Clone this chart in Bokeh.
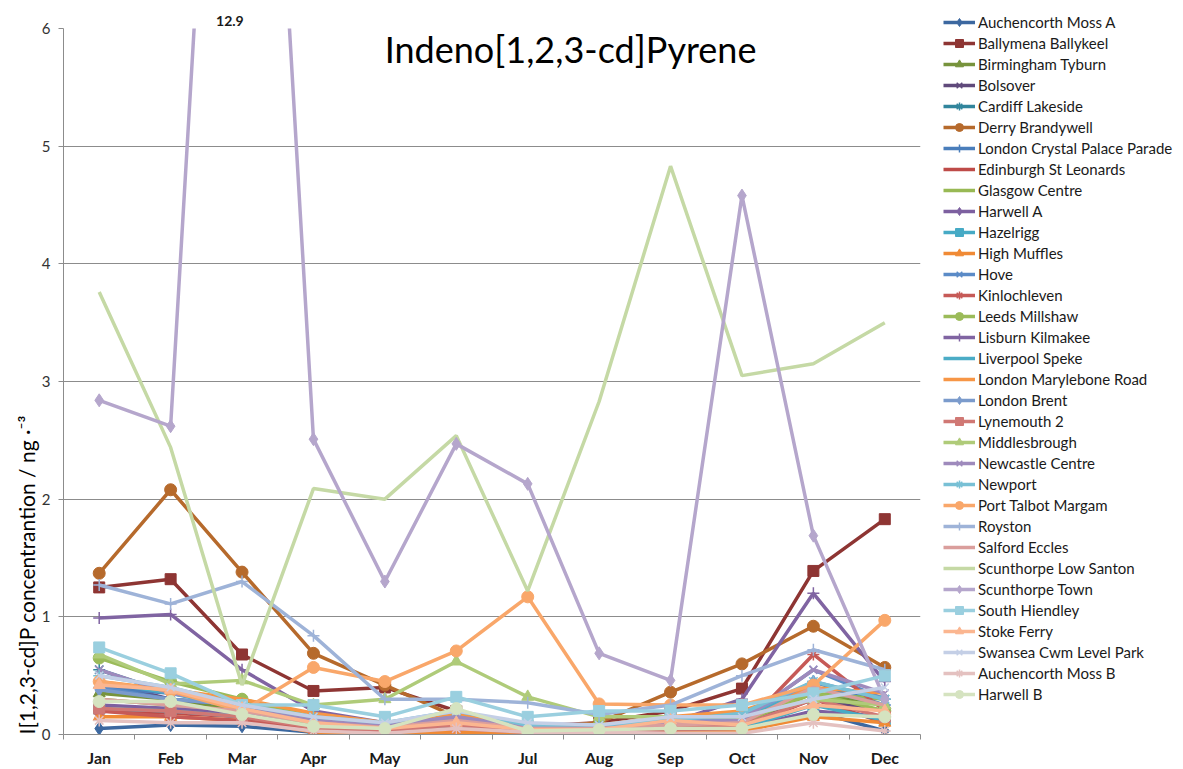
import math
from bokeh.plotting import figure
from bokeh.models import Legend, LegendItem, Label, FixedTicker, Range1d, Title
from bokeh.embed import file_html
from bokeh.resources import INLINE

months = ["Jan", "Feb", "Mar", "Apr", "May", "Jun", "Jul", "Aug", "Sep", "Oct", "Nov", "Dec"]
y_ticks = [0, 1, 2, 3, 4, 5, 6]

auchencorth_moss_a = [0.05, 0.08, 0.07, 0.02, 0.02, 0.02, 0.02, 0.02, 0.01, 0.02, 0.20, 0.03]
ballymena_ballykeel = [1.25, 1.32, 0.68, 0.37, 0.40, 0.20, 0.07, 0.10, 0.20, 0.39, 1.39, 1.83]
birmingham_tyburn = [0.35, 0.30, 0.20, 0.12, 0.08, 0.12, 0.05, 0.06, 0.10, 0.12, 0.35, 0.25]
bolsover = [0.45, 0.30, 0.25, 0.10, 0.06, 0.10, 0.04, 0.05, 0.08, 0.10, 0.30, 0.20]
cardiff_lakeside = [0.55, 0.35, 0.25, 0.15, 0.10, 0.15, 0.08, 0.07, 0.12, 0.15, 0.40, 0.30]
derry_brandywell = [1.37, 2.08, 1.38, 0.69, 0.42, 0.15, 0.05, 0.10, 0.36, 0.60, 0.92, 0.57]
london_crystal_palace = [0.40, 0.35, 0.30, 0.10, 0.07, 0.12, 0.06, 0.05, 0.10, 0.12, 0.45, 0.25]
edinburgh_st_leonards = [0.20, 0.18, 0.15, 0.05, 0.03, 0.07, 0.03, 0.03, 0.05, 0.06, 0.30, 0.10]
glasgow_centre = [0.30, 0.25, 0.20, 0.08, 0.05, 0.10, 0.04, 0.04, 0.08, 0.10, 0.35, 0.30]
harwell_a = [0.25, 0.22, 0.18, 0.06, 0.04, 0.08, 0.03, 0.03, 0.06, 0.05, 0.20, 0.15]
hazelrigg = [0.22, 0.20, 0.15, 0.05, 0.03, 0.06, 0.02, 0.03, 0.05, 0.05, 0.25, 0.12]
high_muffles = [0.15, 0.15, 0.12, 0.02, 0.02, 0.02, 0.02, 0.02, 0.03, 0.03, 0.15, 0.10]
hove = [0.40, 0.30, 0.25, 0.10, 0.07, 0.12, 0.05, 0.05, 0.10, 0.12, 0.55, 0.30]
kinlochleven = [0.20, 0.15, 0.12, 0.05, 0.02, 0.05, 0.02, 0.02, 0.04, 0.05, 0.68, 0.20]
leeds_millshaw = [0.65, 0.45, 0.30, 0.15, 0.10, 0.15, 0.08, 0.08, 0.12, 0.15, 0.35, 0.20]
lisburn_kilmakee = [0.99, 1.02, 0.55, 0.20, 0.10, 0.10, 0.05, 0.05, 0.10, 0.30, 1.20, 0.45]
liverpool_speke = [0.45, 0.35, 0.22, 0.12, 0.08, 0.15, 0.06, 0.06, 0.10, 0.15, 0.40, 0.25]
london_marylebone_road = [0.45, 0.38, 0.30, 0.18, 0.10, 0.18, 0.08, 0.08, 0.15, 0.20, 0.40, 0.35]
london_brent = [0.38, 0.30, 0.25, 0.12, 0.08, 0.12, 0.06, 0.06, 0.10, 0.15, 0.45, 0.30]
lynemouth_2 = [0.22, 0.20, 0.15, 0.06, 0.04, 0.08, 0.03, 0.03, 0.06, 0.08, 0.30, 0.15]
middlesbrough = [0.68, 0.43, 0.46, 0.25, 0.30, 0.62, 0.32, 0.15, 0.15, 0.15, 0.30, 0.25]
newcastle_centre = [0.55, 0.35, 0.25, 0.12, 0.08, 0.15, 0.06, 0.05, 0.10, 0.12, 0.55, 0.35]
newport = [0.50, 0.40, 0.25, 0.15, 0.10, 0.20, 0.08, 0.08, 0.12, 0.18, 0.45, 0.30]
port_talbot_margam = [0.45, 0.37, 0.20, 0.57, 0.45, 0.71, 1.17, 0.26, 0.25, 0.25, 0.42, 0.97]
royston = [1.27, 1.11, 1.30, 0.84, 0.30, 0.30, 0.27, 0.17, 0.25, 0.50, 0.72, 0.55]
salford_eccles = [0.30, 0.25, 0.20, 0.10, 0.06, 0.12, 0.05, 0.05, 0.08, 0.10, 0.40, 0.25]
scunthorpe_low_santon = [3.76, 2.44, 0.42, 2.09, 2.00, 2.54, 1.22, 2.83, 4.83, 3.05, 3.15, 3.50]
scunthorpe_town = [2.84, 2.62, 12.9, 2.51, 1.30, 2.47, 2.13, 0.69, 0.46, 4.58, 1.69, 0.30]
south_hiendley = [0.74, 0.52, 0.25, 0.25, 0.15, 0.32, 0.15, 0.20, 0.20, 0.25, 0.35, 0.50]
stoke_ferry = [0.42, 0.38, 0.22, 0.10, 0.05, 0.10, 0.04, 0.04, 0.12, 0.08, 0.25, 0.20]
swansea_cwm_level_park = [0.50, 0.40, 0.25, 0.15, 0.10, 0.20, 0.10, 0.08, 0.15, 0.15, 0.30, 0.40]
auchencorth_moss_b = [0.12, 0.10, 0.10, 0.03, 0.01, 0.05, 0.02, 0.02, 0.01, 0.01, 0.10, 0.03]
harwell_b = [0.28, 0.28, 0.17, 0.07, 0.05, 0.22, 0.03, 0.04, 0.05, 0.05, 0.17, 0.15]

series = [
    ("Auchencorth Moss A", auchencorth_moss_a),
    ("Ballymena Ballykeel", ballymena_ballykeel),
    ("Birmingham Tyburn", birmingham_tyburn),
    ("Bolsover", bolsover),
    ("Cardiff Lakeside", cardiff_lakeside),
    ("Derry Brandywell", derry_brandywell),
    ("London Crystal Palace Parade", london_crystal_palace),
    ("Edinburgh St Leonards", edinburgh_st_leonards),
    ("Glasgow Centre", glasgow_centre),
    ("Harwell A", harwell_a),
    ("Hazelrigg", hazelrigg),
    ("High Muffles", high_muffles),
    ("Hove", hove),
    ("Kinlochleven", kinlochleven),
    ("Leeds Millshaw", leeds_millshaw),
    ("Lisburn Kilmakee", lisburn_kilmakee),
    ("Liverpool Speke", liverpool_speke),
    ("London Marylebone Road", london_marylebone_road),
    ("London Brent", london_brent),
    ("Lynemouth 2", lynemouth_2),
    ("Middlesbrough", middlesbrough),
    ("Newcastle Centre", newcastle_centre),
    ("Newport", newport),
    ("Port Talbot Margam", port_talbot_margam),
    ("Royston", royston),
    ("Salford Eccles", salford_eccles),
    ("Scunthorpe Low Santon", scunthorpe_low_santon),
    ("Scunthorpe Town", scunthorpe_town),
    ("South Hiendley", south_hiendley),
    ("Stoke Ferry", stoke_ferry),
    ("Swansea Cwm Level Park", swansea_cwm_level_park),
    ("Auchencorth Moss B", auchencorth_moss_b),
    ("Harwell B", harwell_b),
]

colors = [
    "#3C68A0", "#8E3533", "#77933C", "#604A7B", "#31859C", "#B66A2C",
    "#4A7EBB", "#BE4B48", "#98B954", "#7D60A0", "#46AAC5", "#F08A35",
    "#5B8BC7", "#C65A57", "#9BBB59", "#8064A2", "#4BACC6", "#F79646",
    "#7B9BCC", "#D07874", "#AFCB79", "#9E8ABC", "#78C0D5", "#F9A76A",
    "#9EB3D8", "#DA9E9C", "#C5D9A5", "#B5A6CC", "#9ACFDF", "#FBB690",
    "#C4CFE6", "#E4C1C0", "#D5E3C0",
]
marker_cycle = ["diamond", "square", "triangle", "x", "asterisk", "circle", "cross", None, None]
marker_size = {"diamond": 13, "square": 11, "triangle": 12, "x": 11, "asterisk": 12, "circle": 12, "cross": 12}

FONT = "Lato"
TEXT = "#1a1a1a"
GRID = "#8C8C8C"

FRAME_W, FRAME_H = 857, 706
LEFT, TOP = 63, 28

xs = [i + 0.5 for i in range(len(months))]

p = figure(
    frame_width=FRAME_W, frame_height=FRAME_H,
    x_range=Range1d(0, len(months)), y_range=Range1d(y_ticks[0], y_ticks[-1]),
    output_backend="svg", toolbar_location=None,
    min_border_left=LEFT, min_border_right=1176 - LEFT - FRAME_W, min_border_top=TOP, min_border_bottom=27,
    outline_line_color=None, background_fill_color="white", border_fill_color="white",
)

# axes
p.xaxis.ticker = FixedTicker(ticks=xs, minor_ticks=list(range(len(months) + 1)))
p.xaxis.major_label_overrides = {x: m for x, m in zip(xs, months)}
p.xaxis.major_tick_out = 0
p.xaxis.major_tick_in = 0
p.xaxis.minor_tick_out = 5
p.xaxis.minor_tick_in = 0
p.xaxis.minor_tick_line_color = GRID
p.xaxis.axis_line_color = GRID
p.xaxis.major_label_text_font = FONT
p.xaxis.major_label_text_font_size = "16px"
p.xaxis.major_label_text_font_style = "bold"
p.xaxis.major_label_text_color = TEXT
p.xaxis.major_label_standoff = 8

p.yaxis.ticker = FixedTicker(ticks=y_ticks)
p.yaxis.major_tick_out = 5
p.yaxis.major_tick_in = 0
p.yaxis.minor_tick_line_color = None
p.yaxis.major_tick_line_color = GRID
p.yaxis.axis_line_color = GRID
p.yaxis.major_label_text_font = FONT
p.yaxis.major_label_text_font_size = "15px"
p.yaxis.major_label_text_color = "#333333"
p.yaxis.major_label_standoff = 8

p.xgrid.grid_line_color = None
p.ygrid.grid_line_color = GRID
p.ygrid.grid_line_width = 1

items = []
for i, (name, vals) in enumerate(series):
    c = colors[i]
    lr = p.line(xs, vals, line_color=c, line_width=3.5)
    rs = [lr]
    m = marker_cycle[i % len(marker_cycle)]
    if m is not None:
        if m in ("x", "asterisk", "cross"):
            sr = p.scatter(xs, vals, marker=m, size=marker_size[m], line_color=c, line_width=1.5, fill_color=c)
        else:
            sr = p.scatter(xs, vals, marker=m, size=marker_size[m], line_color=c, fill_color=c)
        rs.append(sr)
    items.append(LegendItem(label=name, renderers=rs))

legend = Legend(
    items=items, location=(23, 30), orientation="vertical",
    glyph_width=32, glyph_height=20, label_height=20, spacing=1,
    label_standoff=3, padding=0, margin=0,
    border_line_color=None, background_fill_alpha=0,
    label_text_font=FONT, label_text_font_size="15px", label_text_color=TEXT,
)
p.add_layout(legend, "right")

# off-scale value annotation above the frame
top = y_ticks[-1]
for name, vals in series:
    for x, v in zip(xs, vals):
        if v > top:
            p.add_layout(Title(text=f"{v:g}", align="left", offset=x * FRAME_W / len(months) - 26,
                               text_font=FONT, text_font_size="14px", text_font_style="bold",
                               text_color=TEXT, standoff=6), "above")

# chart title inside the plot area
p.add_layout(Label(x=7.1, y=5.83, text="Indeno[1,2,3-cd]Pyrene", text_align="center",
                   text_baseline="middle", text_font=FONT, text_font_size="36px", text_color="#000000"))

# y-axis title, starting at the bottom of the axis
p.add_layout(Title(text="I[1,2,3-cd]P concentrantion / ng ·\u207b\u00b3", align="left", offset=0,
                   text_font=FONT, text_font_size="21px", text_font_style="normal",
                   text_color="#000000", standoff=0), "left")

open("out.html", "w").write(file_html(p, INLINE))
